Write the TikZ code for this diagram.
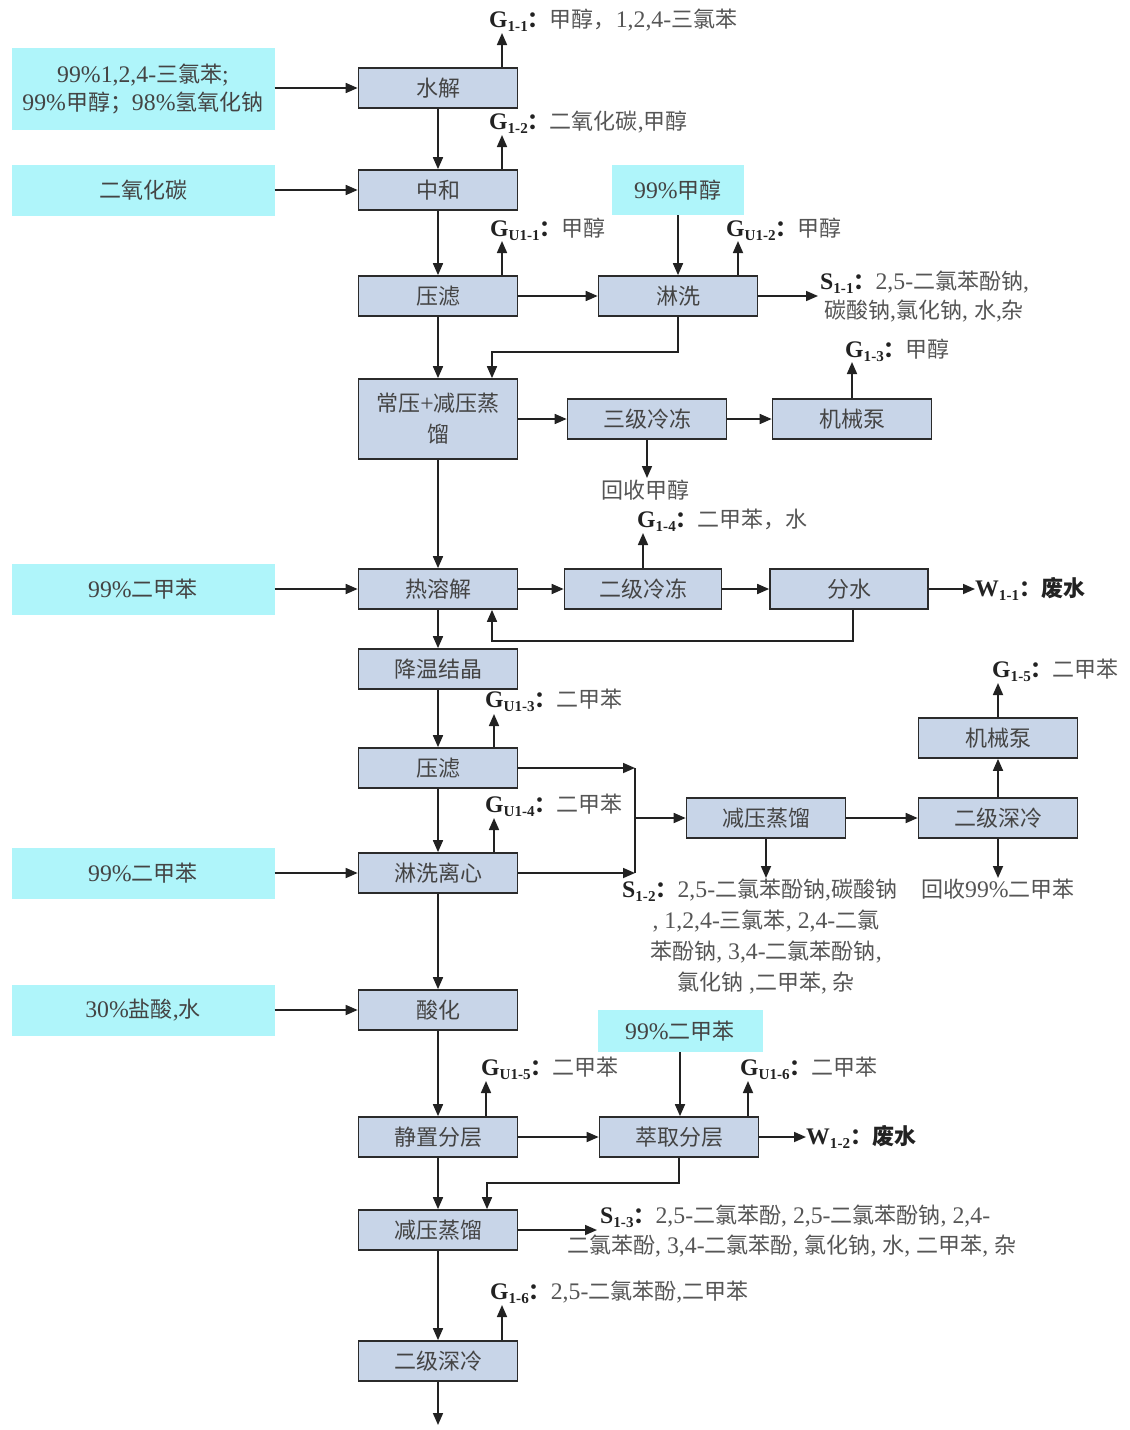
\documentclass[tikz,border=0pt]{standalone}
\usepackage{fontspec}
\setmainfont{Liberation Serif}[Scale=1.08]
\newfontfamily\cjk{Noto Sans CJK SC}
\usetikzlibrary{arrows.meta}
\XeTeXinterchartokenstate=1
\newcount\cjkc
\cjkc="4E00 \loop\XeTeXcharclass\cjkc=7 \ifnum\cjkc<"9FFF \advance\cjkc by 1 \repeat
\cjkc="3000 \loop\XeTeXcharclass\cjkc=7 \ifnum\cjkc<"303F \advance\cjkc by 1 \repeat
\cjkc="FF00 \loop\XeTeXcharclass\cjkc=7 \ifnum\cjkc<"FFEF \advance\cjkc by 1 \repeat
\XeTeXinterchartoks 0 7 = {\cjk}
\XeTeXinterchartoks 4095 7 = {\cjk}
\XeTeXinterchartoks 7 0 = {\rmfamily}
\XeTeXinterchartoks 7 4095 = {\rmfamily}
\definecolor{boxfill}{HTML}{C8D5E8}
\definecolor{boxline}{HTML}{2B2B2B}
\definecolor{cyanfill}{HTML}{AFF5FA}
\definecolor{boxtext}{HTML}{444444}
\definecolor{labtext}{HTML}{555555}
\definecolor{linecol}{HTML}{222222}
\newcommand\gl[2]{{\color{linecol}\textbf{#1}\raisebox{-0.35ex}{\fontsize{14}{14}\selectfont\bfseries #2}\textbf{：}}}
\newcommand\fz{\fontsize{22}{26}\selectfont}
\begin{document}
\begin{tikzpicture}[x=1pt,y=-1pt,
  proc/.style={draw=boxline, fill=boxfill, line width=1.7pt, minimum width=159pt, minimum height=40pt, inner sep=0pt, font=\fz, text=boxtext},
  feed/.style={fill=cyanfill, minimum width=263pt, minimum height=51pt, inner sep=0pt, font=\fz, text=boxtext},
  lab/.style={anchor=west, inner sep=0pt, font=\fz, text=labtext},
  clab/.style={inner sep=0pt, font=\fz, text=labtext},
  arr/.style={-{Triangle[length=12pt,width=10pt]}, line width=1.7pt, draw=linecol},
  ln/.style={line width=1.7pt, draw=linecol}]
\useasboundingbox (0,0) rectangle (1130,1430);
% feeds
\node[feed, minimum height=82pt, align=center, font=\fontsize{22}{28}\selectfont] (f1) at (143,89) {99\%1,2,4-三氯苯;\\99\%甲醇；98\%氢氧化钠};
\node[feed] (f2) at (143,190) {二氧化碳};
\node[feed] (f3) at (143,589) {99\%二甲苯};
\node[feed] (f4) at (143,873) {99\%二甲苯};
\node[feed] (f5) at (143,1010) {30\%盐酸,水};
\node[feed, minimum width=132pt, minimum height=50pt] (f6) at (678,190) {99\%甲醇};
\node[feed, minimum width=165pt, minimum height=42pt] (f7) at (680,1031) {99\%二甲苯};
% main column
\node[proc] (p1) at (438,88) {水解};
\node[proc] (p2) at (438,190) {中和};
\node[proc] (p3) at (438,296) {压滤};
\node[proc, minimum height=80pt, align=center, font=\fontsize{22}{31}\selectfont] (p4) at (438,419) {常压+减压蒸\\馏};
\node[proc] (p5) at (438,589) {热溶解};
\node[proc] (p6) at (438,669) {降温结晶};
\node[proc] (p7) at (438,768) {压滤};
\node[proc] (p8) at (438,873) {淋洗离心};
\node[proc] (p9) at (438,1010) {酸化};
\node[proc] (p10) at (438,1137) {静置分层};
\node[proc] (p11) at (438,1230) {减压蒸馏};
\node[proc] (p12) at (438,1361) {二级深冷};
% side boxes
\node[proc] (q1) at (678,296) {淋洗};
\node[proc] (q2) at (647,419) {三级冷冻};
\node[proc] (q3) at (852,419) {机械泵};
\node[proc, minimum width=157pt] (q4) at (643,589) {二级冷冻};
\node[proc, minimum width=158pt] (q5) at (849,589) {分水};
\node[proc] (q6) at (766,818) {减压蒸馏};
\node[proc] (q7) at (998,818) {二级深冷};
\node[proc] (q8) at (998,738) {机械泵};
\node[proc] (q9) at (679,1137) {萃取分层};
% feed arrows
\draw[arr] (f1.east |- p1) -- (p1.west);
\draw[arr] (f2.east |- p2) -- (p2.west);
\draw[arr] (f3.east |- p5) -- (p5.west);
\draw[arr] (f4.east |- p8) -- (p8.west);
\draw[arr] (f5.east |- p9) -- (p9.west);
\draw[arr] (f6.south) -- (f6.south |- q1.north);
\draw[arr] (f7.south) -- (f7.south |- q9.north);
% main flow
\draw[arr] (p1) -- (p2);
\draw[arr] (p2) -- (p3);
\draw[arr] (p3) -- (p4);
\draw[arr] (p4) -- (p5);
\draw[arr] (p5) -- (p6);
\draw[arr] (p6) -- (p7);
\draw[arr] (p7) -- (p8);
\draw[arr] (p8) -- (p9);
\draw[arr] (p9) -- (p10);
\draw[arr] (p10) -- (p11);
\draw[arr] (p11) -- (p12);
\coordinate (pend) at (438,1425);
\draw[arr] (p12) -- (pend);
% side flows
\draw[arr] (p3) -- (q1);
\draw[arr] (q1.south) -- (q1.south |- 0,352) -| ([xshift=54pt]p4.north);
\draw[arr] (p4.east |- q2) -- (q2.west);
\draw[arr] (q2) -- (q3);
\draw[arr] (p5) -- (q4);
\draw[arr] (q4) -- (q5);
\draw[arr] ([xshift=4pt]q5.south) -- ([xshift=4pt]q5.south |- 0,641) -| ([xshift=54pt]p5.south);
\coordinate (j1) at (635,768);
\coordinate (j2) at (635,873);
\coordinate (j3) at (635,818);
\draw[arr] (p7.east) -- (j1);
\draw[arr] (p8.east) -- (j2);
\draw[ln] (j1) -- (j2);
\draw[arr] (j3) -- (q6.west);
\draw[arr] (q6) -- (q7);
\draw[arr] (q7) -- (q8);
\draw[arr] (p10) -- (q9);
\draw[arr] (q9.south) -- (q9.south |- 0,1183) -| ([xshift=49pt]p11.north);
% emission labels
\node[lab] (l11) at (489,20) {\gl{G}{1-1}甲醇，1,2,4-三氯苯};
\coordinate (t11) at (502,33);
\draw[arr] (p1.north -| t11) -- (t11);
\node[lab] (l12) at (489,122) {\gl{G}{1-2}二氧化碳,甲醇};
\coordinate (t12) at (502,135);
\draw[arr] (p2.north -| t12) -- (t12);
\node[lab] (lu11) at (490,229) {\gl{G}{U1-1}甲醇};
\coordinate (tu11) at (502,241);
\draw[arr] (p3.north -| tu11) -- (tu11);
\node[lab] (lu12) at (726,229) {\gl{G}{U1-2}甲醇};
\coordinate (tu12) at (738,241);
\draw[arr] (q1.north -| tu12) -- (tu12);
\coordinate (ts11) at (818,296);
\draw[arr] (q1.east) -- (ts11);
\node[lab] (ls11a) at (820,282) {\gl{S}{1-1}2,5-二氯苯酚钠,};
\node[lab] (ls11b) at (824,311) {碳酸钠,氯化钠, 水,杂};
\node[lab] (l13) at (845,350) {\gl{G}{1-3}甲醇};
\coordinate (t13) at (852,362);
\draw[arr] (q3.north) -- (t13);
\coordinate (thm) at (647,478);
\draw[arr] (q2.south) -- (thm);
\node[clab] (lhm) at (645,490) {回收甲醇};
\node[lab] (l14) at (637,520) {\gl{G}{1-4}二甲苯，水};
\coordinate (t14) at (643,533);
\draw[arr] (q4.north) -- (t14);
\coordinate (tw11) at (975,589);
\draw[arr] (q5.east) -- (tw11);
\node[lab, font=\fz\bfseries, text=linecol] (lw11) at (975,589) {W\raisebox{-0.35ex}{\fontsize{14}{14}\selectfont 1-1}：废水};
\node[lab] (lu13) at (485,700) {\gl{G}{U1-3}二甲苯};
\coordinate (tu13) at (494,714);
\draw[arr] (p7.north -| tu13) -- (tu13);
\node[lab] (lu14) at (485,805) {\gl{G}{U1-4}二甲苯};
\coordinate (tu14) at (494,818);
\draw[arr] (p8.north -| tu14) -- (tu14);
\node[lab] (l15) at (992,670) {\gl{G}{1-5}二甲苯};
\coordinate (t15) at (998,683);
\draw[arr] (q8.north) -- (t15);
\coordinate (ts12) at (766,878);
\draw[arr] (q6.south) -- (ts12);
\node[lab] (ls12a) at (622,890) {\gl{S}{1-2}2,5-二氯苯酚钠,碳酸钠};
\node[clab] (ls12b) at (766,921) {, 1,2,4-三氯苯, 2,4-二氯};
\node[clab] (ls12c) at (766,952) {苯酚钠, 3,4-二氯苯酚钠,};
\node[clab] (ls12d) at (766,983) {氯化钠 ,二甲苯, 杂};
\coordinate (thx) at (998,878);
\draw[arr] (q7.south) -- (thx);
\node[clab] (lhx) at (998,889) {回收99\%二甲苯};
\node[lab] (lu15) at (481,1068) {\gl{G}{U1-5}二甲苯};
\coordinate (tu15) at (486,1081);
\draw[arr] (p10.north -| tu15) -- (tu15);
\node[lab] (lu16) at (740,1068) {\gl{G}{U1-6}二甲苯};
\coordinate (tu16) at (748,1081);
\draw[arr] (q9.north -| tu16) -- (tu16);
\coordinate (tw12) at (806,1137);
\draw[arr] (q9.east) -- (tw12);
\node[lab, font=\fz\bfseries, text=linecol] (lw12) at (806,1137) {W\raisebox{-0.35ex}{\fontsize{14}{14}\selectfont 1-2}：废水};
\coordinate (ts13) at (597,1230);
\draw[arr] (p11.east) -- (ts13);
\node[lab] (ls13a) at (600,1216) {\gl{S}{1-3}2,5-二氯苯酚, 2,5-二氯苯酚钠, 2,4-};
\node[lab] (ls13b) at (567,1246) {二氯苯酚, 3,4-二氯苯酚, 氯化钠, 水, 二甲苯, 杂};
\node[lab] (l16) at (490,1292) {\gl{G}{1-6}2,5-二氯苯酚,二甲苯};
\coordinate (t16) at (502,1305);
\draw[arr] (p12.north -| t16) -- (t16);
\end{tikzpicture}
\end{document}
